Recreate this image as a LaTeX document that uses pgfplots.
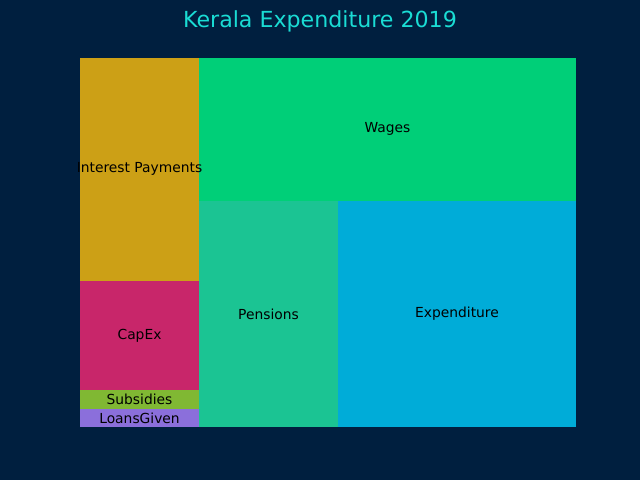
\documentclass[border=0pt]{standalone}
\usepackage{pgfplots}
\pgfplotsset{compat=1.18}
\usepackage{fontspec}
\setmainfont{DejaVu Sans}
\definecolor{bg}{HTML}{001F3F}
\definecolor{ttl}{HTML}{1ADCD4}
\definecolor{cInt}{HTML}{CCA016}
\definecolor{cCap}{HTML}{C8266A}
\definecolor{cSub}{HTML}{80B833}
\definecolor{cLoan}{HTML}{8B6FDB}
\definecolor{cWage}{HTML}{00CF78}
\definecolor{cPen}{HTML}{1BC493}
\definecolor{cExp}{HTML}{00ACD8}
\begin{document}
\begin{tikzpicture}[x=1bp,y=1bp]
\fill[bg] (0,0) rectangle (460.8,345.6);
\node[anchor=north, inner sep=0pt, text=ttl, font=\fontsize{16}{19}\selectfont] at (230.4,337.8) {Kerala Expenditure 2019};
\begin{axis}[
  at={(57.6bp,38.016bp)}, anchor=south west,
  scale only axis, width=357.12bp, height=266.112bp,
  xmin=0, xmax=100, ymin=0, ymax=100,
  hide axis, clip=false, no marks,
  every node/.style={font=\fontsize{10}{12}\selectfont, text=black, yshift=-0.8bp},
]
\addplot[fill=cInt, draw=none] coordinates {(0,39.56) (24,39.56) (24,100) (0,100)} -- cycle;
\addplot[fill=cCap, draw=none] coordinates {(0,10.06) (24,10.06) (24,39.56) (0,39.56)} -- cycle;
\addplot[fill=cSub, draw=none] coordinates {(0,4.92) (24,4.92) (24,10.06) (0,10.06)} -- cycle;
\addplot[fill=cLoan, draw=none] coordinates {(0,0) (24,0) (24,4.92) (0,4.92)} -- cycle;
\addplot[fill=cWage, draw=none] coordinates {(24,61.2) (100,61.2) (100,100) (24,100)} -- cycle;
\addplot[fill=cPen, draw=none] coordinates {(24,0) (52,0) (52,61.2) (24,61.2)} -- cycle;
\addplot[fill=cExp, draw=none] coordinates {(52,0) (100,0) (100,61.2) (52,61.2)} -- cycle;
\node at (axis cs:12,69.78) {Interest Payments};
\node at (axis cs:12,24.81) {CapEx};
\node at (axis cs:12,7.49) {Subsidies};
\node at (axis cs:12,2.46) {LoansGiven};
\node at (axis cs:62,80.6) {Wages};
\node at (axis cs:38,30.6) {Pensions};
\node at (axis cs:76,30.6) {Expenditure};
\end{axis}
\end{tikzpicture}
\end{document}
